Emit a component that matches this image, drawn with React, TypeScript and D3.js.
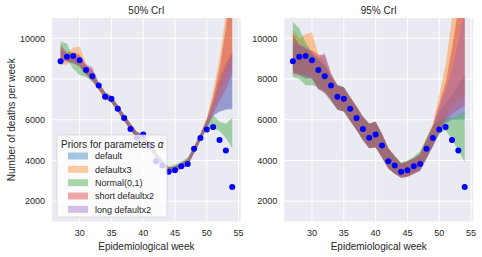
import * as d3 from 'd3';

// epidemiological weeks 27..54
const weeks = [27, 28, 29, 30, 31, 32, 33, 34, 35, 36, 37, 38, 39, 40, 41, 42, 43, 44, 45, 46, 47, 48, 49, 50, 51, 52, 53, 54];
const observed = [8880, 9100, 9130, 8920, 8450, 8140, 7680, 7130, 7030, 6540, 6080, 5540, 5120, 5280, 4730, 3960, 3750, 3450, 3520, 3710, 3830, 4580, 5100, 5520, 5640, 5000, 4490, 2700];

const priorLabels = ['default', 'defaultx3', 'Normal(0,1)', 'short defaultx2', 'long defaultx2'];
const priorColors = ['#1f77b4', '#ff7f0e', '#2ca02c', '#d62728', '#9467bd'];

// 50% CrI
const default50Lo = [8900, 8850, 8750, 8650, 8300, 7950, 7500, 7050, 6850, 6400, 5950, 5500, 5100, 4950, 4600, 4100, 3750, 3400, 3450, 3600, 3750, 4350, 4950, 5600, 6200, 6400, 6500, 6500];
const default50Hi = [9450, 9250, 9100, 8950, 8650, 8350, 7800, 7350, 7150, 6700, 6250, 5800, 5400, 5250, 4900, 4400, 4000, 3650, 3700, 3850, 4050, 4650, 5300, 6000, 6900, 8000, 8800, 9300];
const x3_50Lo = [8700, 8700, 8900, 8750, 8300, 8000, 7450, 7000, 6850, 6400, 5950, 5500, 5100, 4950, 4600, 4100, 3750, 3400, 3450, 3600, 3800, 4400, 5000, 5700, 6500, 7300, 8000, 8800];
const x3_50Hi = [9300, 9250, 9550, 9600, 8750, 8400, 7750, 7300, 7150, 6700, 6250, 5800, 5400, 5250, 4900, 4400, 4000, 3650, 3700, 3900, 4100, 4700, 5350, 6100, 7400, 9000, 11200, 14000];
const normal50Lo = [9300, 9000, 8500, 8200, 8100, 7850, 7500, 7050, 6850, 6400, 5950, 5500, 5100, 4950, 4600, 4100, 3750, 3450, 3500, 3650, 3800, 4400, 5000, 5550, 5600, 5450, 5100, 4600];
const normal50Hi = [9850, 9750, 9000, 8700, 8500, 8100, 7800, 7350, 7150, 6700, 6250, 5800, 5400, 5250, 4900, 4400, 4000, 3700, 3800, 3950, 4150, 4700, 5300, 5950, 6250, 5900, 5800, 6100];
const short50Lo = [9000, 8900, 8800, 8600, 8200, 7900, 7500, 7050, 6850, 6400, 5950, 5500, 5100, 4950, 4600, 4100, 3750, 3400, 3450, 3600, 3750, 4350, 4950, 5650, 6300, 6900, 7500, 8300];
const short50Hi = [9700, 9300, 9300, 9200, 8700, 8500, 7800, 7350, 7150, 6700, 6250, 5800, 5400, 5250, 4900, 4400, 4000, 3650, 3700, 3850, 4050, 4650, 5300, 6000, 7100, 8500, 10500, 13000];
const long50Lo = [8900, 8900, 8800, 8700, 8300, 7950, 7500, 7050, 6850, 6400, 5950, 5500, 5100, 4950, 4600, 4100, 3750, 3400, 3450, 3600, 3750, 4350, 4950, 5600, 6200, 6400, 6500, 6600];
const long50Hi = [9500, 9250, 9200, 9100, 8700, 8600, 7800, 7350, 7150, 6700, 6250, 5800, 5400, 5250, 4900, 4400, 4000, 3650, 3700, 3850, 4050, 4650, 5300, 5950, 6800, 7800, 8600, 9200];

// 95% CrI
const default95Lo = [8400, 8200, 8000, 8100, 7500, 7400, 7000, 6500, 6400, 5950, 5500, 5000, 4600, 4650, 4150, 3600, 3350, 3150, 3200, 3350, 3500, 4100, 4700, 5300, 5800, 6000, 6000, 6000];
const default95Hi = [9800, 9600, 9500, 9200, 8900, 8700, 8200, 7700, 7600, 7100, 6650, 6150, 5800, 5900, 5300, 4600, 4200, 3850, 3950, 4100, 4300, 5000, 5650, 6400, 6800, 7200, 7700, 8200];
const x3_95Lo = [8200, 8300, 8300, 8200, 7600, 7500, 7000, 6500, 6400, 5950, 5500, 5000, 4600, 4650, 4150, 3600, 3350, 3150, 3200, 3350, 3550, 4150, 4750, 5500, 6200, 6700, 7000, 7200];
const x3_95Hi = [10400, 10000, 10200, 10300, 9200, 8900, 8200, 7700, 7600, 7100, 6650, 6150, 5800, 5900, 5300, 4600, 4200, 3850, 3950, 4100, 4350, 5100, 5800, 7200, 8700, 11000, 13000, 14000];
const normal95Lo = [8100, 8000, 7700, 7700, 7600, 7300, 6900, 6500, 6400, 5950, 5500, 5000, 4600, 4650, 4150, 3600, 3350, 3200, 3250, 3400, 3550, 4150, 4750, 5300, 5500, 5000, 4500, 3900];
const normal95Hi = [10800, 10500, 9800, 9300, 9000, 8600, 8100, 7700, 7600, 7100, 6650, 6150, 5800, 5900, 5300, 4600, 4250, 3900, 4000, 4200, 4450, 5100, 5700, 6000, 6100, 6100, 6200, 6400];
const short95Lo = [8300, 8200, 8100, 8000, 7500, 7300, 7000, 6500, 6400, 5950, 5500, 5000, 4600, 4650, 4150, 3600, 3350, 3150, 3200, 3350, 3500, 4100, 4700, 5400, 6000, 6300, 6500, 6700];
const short95Hi = [10200, 9700, 9500, 9400, 9200, 9200, 8300, 7700, 7600, 7100, 6650, 6150, 5800, 5900, 5300, 4600, 4200, 3850, 3950, 4100, 4300, 5000, 5700, 6800, 7800, 9500, 11500, 13000];
const long95Lo = [8300, 8200, 8200, 8000, 7500, 7400, 6900, 6500, 6400, 5950, 5500, 5000, 4600, 4650, 4150, 3600, 3350, 3150, 3200, 3350, 3500, 4100, 4700, 5400, 5900, 6100, 6200, 6300];
const long95Hi = [9900, 9700, 9600, 9300, 9000, 9300, 8200, 7700, 7600, 7100, 6650, 6150, 5800, 5900, 5300, 4600, 4200, 3850, 3950, 4100, 4300, 5000, 5650, 6600, 7400, 8500, 9800, 11500];

const xTicks = [30, 35, 40, 45, 50, 55];
const yTicks = [2000, 4000, 6000, 8000, 10000];

const bands50 = [[default50Lo, default50Hi], [x3_50Lo, x3_50Hi], [normal50Lo, normal50Hi], [short50Lo, short50Hi], [long50Lo, long50Hi]];
const bands95 = [[default95Lo, default95Hi], [x3_95Lo, x3_95Hi], [normal95Lo, normal95Hi], [short95Lo, short95Hi], [long95Lo, long95Hi]];

const W = 482;
const H = 257;
const TOP = 18;
const BOTTOM = 221.5;
const FONT = 'Liberation Sans, Arial, sans-serif';

const y = d3.scaleLinear().domain([1000, 11000]).range([BOTTOM, TOP]);

function Panel({ id, left, right, title, bands, showLegend, showYLabel }: {
  id: string; left: number; right: number; title: string;
  bands: number[][][]; showLegend: boolean; showYLabel: boolean;
}) {
  const x = d3.scaleLinear().domain([25.65, 55.35]).range([left, right]);
  const area = d3.area<number>()
    .x((_, i) => x(weeks[i]))
    .y0(d => y(d))
    .y1(d => y(d));
  const cx = (left + right) / 2;

  return (
    <g>
      <defs>
        <clipPath id={id}>
          <rect x={left} y={TOP} width={right - left} height={BOTTOM - TOP} />
        </clipPath>
      </defs>
      <rect x={left} y={TOP} width={right - left} height={BOTTOM - TOP} fill="#eaeaf2" />
      {xTicks.map(t => (
        <line key={'gx' + t} x1={x(t)} x2={x(t)} y1={TOP} y2={BOTTOM} stroke="#fff" strokeWidth={1} clipPath={`url(#${id})`} />
      ))}
      {yTicks.map(t => (
        <line key={'gy' + t} x1={left} x2={right} y1={y(t)} y2={y(t)} stroke="#fff" strokeWidth={1} />
      ))}
      <g clipPath={`url(#${id})`}>
        {bands.map(([lo, hi], k) => {
          const a = d3.area<number>()
            .x((_, i) => x(weeks[i]))
            .y0((_, i) => y(lo[i]))
            .y1((_, i) => y(hi[i]));
          return <path key={k} d={a(lo) ?? ''} fill={priorColors[k]} fillOpacity={0.4} />;
        })}
        {observed.map((v, i) => (
          <circle key={i} cx={x(weeks[i])} cy={y(v)} r={3} fill="#0000ff" />
        ))}
      </g>
      {xTicks.map(t => (
        <text key={'tx' + t} x={x(t)} y={235.5} fontSize={9} textAnchor="middle" fill="#262626" fontFamily={FONT}>{t}</text>
      ))}
      {yTicks.map(t => (
        <text key={'ty' + t} x={left - 7} y={y(t) + 3.2} fontSize={9} textAnchor="end" fill="#262626" fontFamily={FONT}>{t}</text>
      ))}
      <text x={cx} y={13.5} fontSize={10} textAnchor="middle" fill="#262626" fontFamily={FONT}>{title}</text>
      <text x={cx} y={249.5} fontSize={10} textAnchor="middle" fill="#262626" fontFamily={FONT}>Epidemiological week</text>
      {showYLabel && (
        <text transform={`translate(14.5,${(TOP + BOTTOM) / 2}) rotate(-90)`} fontSize={10} textAnchor="middle" fill="#262626" fontFamily={FONT}>Number of deaths per week</text>
      )}
      {showLegend && (
        <g fontFamily={FONT} fill="#262626">
          <rect x={57} y={135} width={110} height={82} rx={2.5} fill="#fff" fillOpacity={0.8} stroke="#cccccc" strokeOpacity={0.8} strokeWidth={0.8} />
          <text x={61} y={148} fontSize={10}>Priors for parameters <tspan fontStyle="italic">α</tspan></text>
          {priorLabels.map((lab, i) => {
            const ry = 156 + i * 13.33;
            return (
              <g key={lab}>
                <rect x={68} y={ry - 3.5} width={20} height={7} fill={priorColors[i]} fillOpacity={0.4} />
                <text x={95} y={ry + 3.2} fontSize={9}>{lab}</text>
              </g>
            );
          })}
        </g>
      )}
    </g>
  );
}

export default function App() {
  return (
    <div style={{ position: 'absolute', left: 0, top: 0 }}>
      <svg width={W} height={H} style={{ display: 'block', background: '#fff' }}>
        <Panel id="clipA" left={52} right={240.8} title="50% CrI" bands={bands50} showLegend showYLabel />
        <Panel id="clipB" left={284.3} right={473.3} title="95% CrI" bands={bands95} showLegend={false} showYLabel={false} />
      </svg>
    </div>
  );
}
